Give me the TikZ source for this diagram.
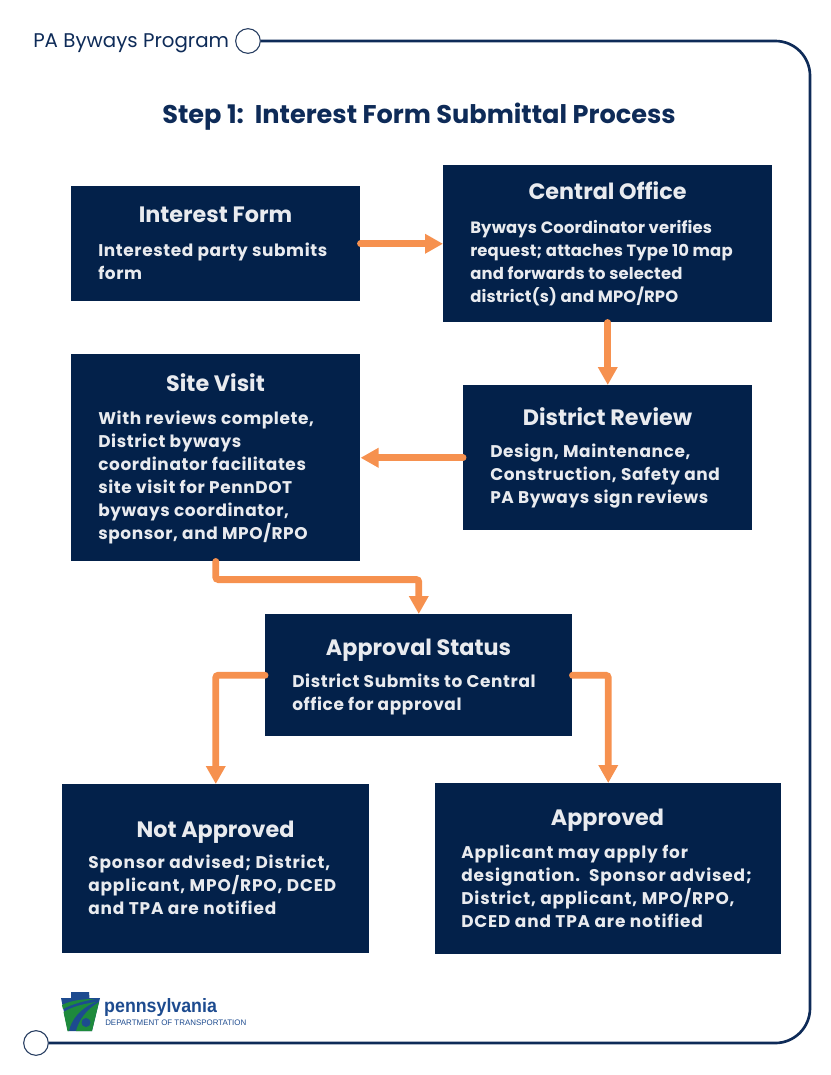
\documentclass[tikz,border=0pt]{standalone}
\usepackage{fontspec}
\setmainfont{Poppins}
\newfontfamily\logofont{Liberation Sans}
\usetikzlibrary{arrows.meta}
\definecolor{navybox}{HTML}{03214A}
\definecolor{framecol}{HTML}{0E2B58}
\definecolor{orangeline}{HTML}{F6914F}
\definecolor{boxtext}{HTML}{E9EBEF}
\definecolor{logoblue}{HTML}{1D4B8F}
\definecolor{logogreen}{HTML}{1E8A3C}
\tikzset{
stepbox/.style={fill=navybox,draw=none,inner sep=0pt,anchor=north west},
boxtitle/.style={text=boxtext,font=\fontsize{16.7}{19}\selectfont\bfseries,inner sep=0pt,anchor=center},
boxbody/.style={text=boxtext,font=\addfontfeature{LetterSpace=3.6}\fontsize{12.7}{17.25}\selectfont\bfseries,inner sep=0pt,anchor=north west,align=left},
tightbody/.style={boxbody,font=\addfontfeature{LetterSpace=1}\fontsize{12.3}{17.25}\selectfont\bfseries},
widebody/.style={boxbody,font=\addfontfeature{LetterSpace=5}\fontsize{12.7}{17.25}\selectfont\bfseries},
flow/.style={draw=orangeline,line width=5.2pt,line cap=round,rounded corners=2pt,-{Triangle[length=13.5pt,width=14pt]}},
frameline/.style={draw=framecol,line width=2pt},
ring/.style={circle,draw=framecol!80!gray,line width=.8pt,fill=white,minimum size=18.5pt,inner sep=0pt},
}
\begin{document}
\begin{tikzpicture}[x=.75pt,y=-.75pt]
\useasboundingbox (0,0) rectangle (831,1075);
% frame
\node [ring] (ringtop) at (248,41) {};
\node [ring] (ringbot) at (36,1043) {};
\draw [frameline,rounded corners=26pt] (ringtop.east) -- (810,41) -- (810,1043) -- (ringbot.east);
\node [anchor=west,inner sep=0pt,text=framecol,font=\fontsize{14.85}{17}\selectfont] (program) at (33,43) {PA Byways Program};
\node [inner sep=0pt,text=framecol,font=\fontsize{19.2}{23}\selectfont\bfseries] (heading) at (419,116.5) {Step 1:\ \ Interest Form Submittal Process};
% boxes
\node [stepbox,minimum width=216.75pt,minimum height=86.25pt] (interest) at (71,186) {};
\node [stepbox,minimum width=246.75pt,minimum height=117.75pt] (central) at (443,165) {};
\node [stepbox,minimum width=216.75pt,minimum height=155.25pt] (site) at (71,354) {};
\node [stepbox,minimum width=216.75pt,minimum height=108.75pt] (district) at (463,385) {};
\node [stepbox,minimum width=230.25pt,minimum height=91.5pt] (approval) at (265,614) {};
\node [stepbox,minimum width=230.25pt,minimum height=126.75pt] (notappr) at (62,784) {};
\node [stepbox,minimum width=259.5pt,minimum height=128.25pt] (appr) at (435,783) {};
% titles
\node [boxtitle] (interesthead) at (215.5,215) {Interest Form};
\node [boxtitle] (centralhead) at (607.5,191) {Central Office};
\node [boxtitle] (sitehead) at (215.5,383) {Site Visit};
\node [boxtitle] (districthead) at (607.5,417) {District Review};
\node [boxtitle] (approvalhead) at (418.5,650) {Approval Status};
\node [boxtitle] (notapprhead) at (215.5,832) {Not Approved};
\node [boxtitle] (apprhead) at (607.5,820) {Approved};
% body text
\node [boxbody] (interesttext) at (98,243) {Interested party submits\\form};
\node [tightbody] (centraltext) at (470,220) {Byways Coordinator verifies\\request; attaches Type 10 map\\and forwards to selected\\district(s) and MPO/RPO};
\node [boxbody] (sitetext) at (98,411) {With reviews complete,\\District byways\\coordinator facilitates\\site visit for PennDOT\\byways coordinator,\\sponsor, and MPO/RPO};
\node [boxbody] (districttext) at (490,444) {Design, Maintenance,\\Construction, Safety and\\PA Byways sign reviews};
\node [boxbody] (approvaltext) at (292,674) {District Submits to Central\\office for approval};
\node [widebody] (notapprtext) at (88,855) {Sponsor advised; District,\\applicant, MPO/RPO, DCED\\and TPA are notified};
\node [widebody] (apprtext) at (461,845) {Applicant may apply for\\designation.\ \ Sponsor advised;\\District, applicant, MPO/RPO,\\DCED and TPA are notified};
% arrows
\draw [flow] (interest.east) -- (central.west);
\draw [flow] (central.south) -- (district.north);
\draw [flow] (district.west) -- (site.east);
\draw [flow] (site.south) -- ++(0,18) -| (approval.north);
\draw [flow] (approval.west) -| (notappr.north);
\draw [flow] (approval.east) -| (appr.north);
% logo
\fill [logoblue] (71,992) -- (89,992) -- (89.5,998) -- (100,998) -- (92,1031) -- (68,1031) -- (61,998) -- (71,998) -- cycle;
\fill [logogreen] (99,1002) -- (92,1031) -- (76,1031) .. controls (79,1020) and (86,1010) .. cycle;
\fill [logogreen] (63.5,1012) -- (67.5,1031) -- (69,1031) .. controls (71,1020) and (80,1008) .. (96,1002) .. controls (82,1004) and (72,1007) .. cycle;
\fill [logogreen] (62,1005) .. controls (72,1000) and (84,999) .. (95,999) .. controls (84,1001) and (72,1004) .. (63,1009) -- cycle;
\fill [logoblue] (86,1022.5) circle (4.5);
\node [anchor=west,inner sep=0pt,xscale=.92,text=logoblue,font=\logofont\fontsize{14.5}{16}\selectfont\bfseries] (logoname) at (104,1007) {pennsylvania};
\node [anchor=west,inner sep=0pt,xscale=.99,text=logoblue,font=\logofont\fontsize{6}{7}\selectfont] (logodept) at (105,1023) {DEPARTMENT OF TRANSPORTATION};
\end{tikzpicture}
\end{document}
